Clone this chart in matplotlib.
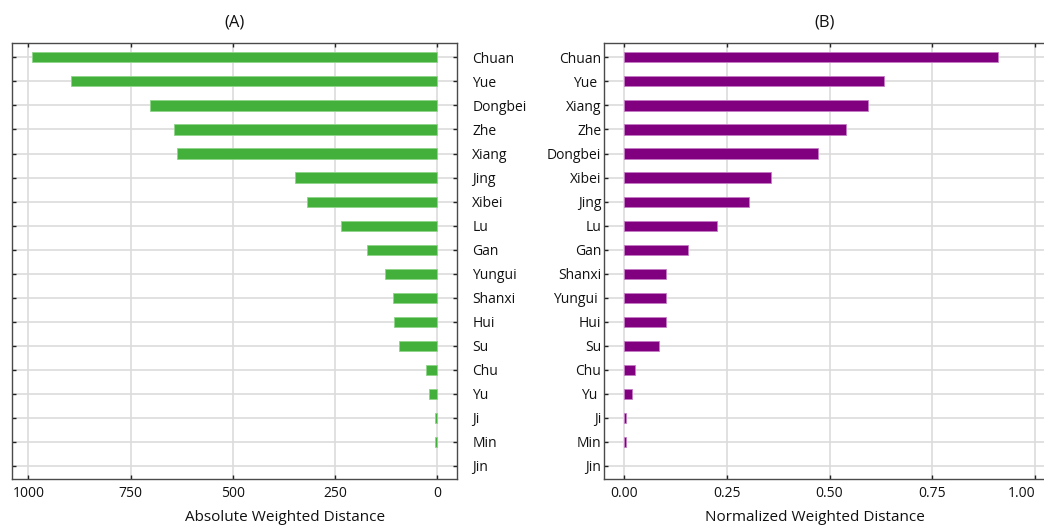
import matplotlib.pyplot as plt
import numpy as np

plt.rcParams['font.family'] = ['Open Sans', 'DejaVu Sans']

# absolute weighted distance per cuisine
abs_names = ["Chuan", "Yue", "Dongbei", "Zhe", "Xiang", "Jing", "Xibei", "Lu", "Gan",
             "Yungui", "Shanxi", "Hui", "Su", "Chu", "Yu", "Ji", "Min", "Jin"]
abs_vals = [991, 896, 702, 644, 636, 347, 317, 234, 171,
            128, 107, 104, 92, 27, 20, 5, 4, 0]

# normalized weighted distance per cuisine
norm_names = ["Chuan", "Yue ", "Xiang", "Zhe", "Dongbei", "Xibei", "Jing", "Lu", "Gan",
              "Shanxi", "Yungui ", "Hui", "Su", "Chu", "Yu ", "Ji", "Min", "Jin"]
norm_vals = [0.909, 0.632, 0.593, 0.541, 0.472, 0.358, 0.304, 0.226, 0.156,
             0.103, 0.102, 0.101, 0.085, 0.026, 0.020, 0.005, 0.0035, 0.0]

W, H = 1044, 525
fig = plt.figure(figsize=(W / 100, H / 100), dpi=100)
axA = fig.add_axes([12 / W, 1 - 479 / H, 445 / W, 436 / H])
axB = fig.add_axes([604 / W, 1 - 479 / H, 442 / W, 436 / H])

spine_col = "#4a4a4a"
grid_col = "#dcdcdc"
txt = "#111111"


def style(ax):
    ax.set_axisbelow(True)
    ax.grid(True, color=grid_col, linewidth=1.2)
    for s in ax.spines.values():
        s.set_color(spine_col)
        s.set_linewidth(1.0)
    ax.tick_params(direction="in", length=3, width=1, color="#222222",
                   labelsize=10, labelcolor=txt)
    ax.tick_params(axis="x", pad=5)


def edges(vals):
    # no outline on empty bars
    return [0.6 if v > 0 else 0 for v in vals]


# (A)
y = np.arange(len(abs_names))
axA.barh(y, abs_vals, height=0.42, color="#44b03c", edgecolor="#8fd488",
         linewidth=edges(abs_vals))
axA.set_xlim(1040, -49)
axA.set_ylim(17.55, -0.6)
axA.set_yticks(y)
axA.set_yticklabels(abs_names)
axA.set_xticks([1000, 750, 500, 250, 0])
style(axA)
axA.tick_params(axis="y", left=True, right=True, labelleft=False, labelright=True, pad=11)
axA.tick_params(axis="x", top=True, bottom=True)
axA.set_xlabel("Absolute Weighted Distance", fontsize=11, color=txt)
axA.xaxis.set_label_coords(0.613, -0.072)
axA.set_title("(A)", fontsize=12, pad=12, color=txt)

# (B)
y = np.arange(len(norm_names))
axB.barh(y, norm_vals, height=0.42, color="#800080", edgecolor="#c47cc4",
         linewidth=edges(norm_vals))
axB.set_xlim(-0.049, 1.027)
axB.set_ylim(17.55, -0.6)
axB.set_yticks(y)
axB.set_yticklabels(norm_names)
axB.set_xticks([0, 0.25, 0.5, 0.75, 1.0])
axB.set_xticklabels(["0.00", "0.25", "0.50", "0.75", "1.00"])
axB.get_xticklabels()[-1].set_horizontalalignment("right")
style(axB)
axB.spines["right"].set_visible(False)
axB.tick_params(axis="y", left=True, right=False, pad=2)
axB.tick_params(axis="x", top=True, bottom=True)
axB.set_xlabel("Normalized Weighted Distance", fontsize=11, color=txt)
axB.xaxis.set_label_coords(0.477, -0.072)
axB.set_title("(B)", fontsize=12, pad=12, color=txt)

fig.savefig("out.png", dpi=100)
